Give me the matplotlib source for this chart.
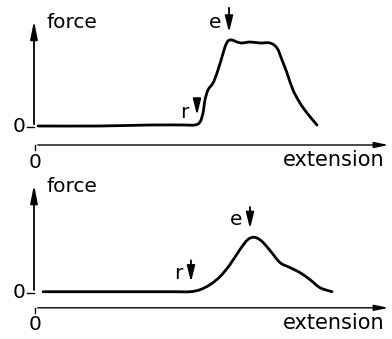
import matplotlib
matplotlib.use("Agg")
import matplotlib.pyplot as plt
from matplotlib.path import Path
from matplotlib.patches import PathPatch
import numpy as np

# traced curves (extension, force), arbitrary units
ext_top = [3, 65, 115, 150, 160, 165, 168, 170, 173, 178, 182, 187, 190, 193, 197,
           202, 207, 215, 225, 235, 242, 247, 252, 258, 265, 272, 282]
force_top = [1, 1, 2, 2, 2, 5, 14, 27, 37, 44, 54, 70, 80, 86, 87,
             85, 84, 85, 84, 84, 79, 67, 54, 37, 24, 14, 2]

ext_bot = [8, 85, 140, 155, 165, 175, 185, 195, 205, 213, 220, 227, 235, 245, 255,
           265, 275, 285, 297]
force_bot = [1, 1, 1, 1, 3, 8, 16, 28, 43, 53, 55, 51, 42, 30, 25, 20, 13, 5, 1]

# marker arrows: (x, y_start, y_end)
r_top = (162, 25, 9)
e_top = (194, 122, 92)
r_bot = (156, 35, 8)
e_bot = (215, 88, 61)

FS = 14.5


def smooth_path(x, y):
    # bezier path through the traced points (catmull-rom control points)
    p = np.column_stack([x, y]).astype(float)
    p_ext = np.vstack([p[0], p, p[-1]])
    verts = [p[0]]
    codes = [Path.MOVETO]
    for i in range(1, len(p_ext) - 2):
        p0, p1, p2, p3 = p_ext[i - 1], p_ext[i], p_ext[i + 1], p_ext[i + 2]
        verts += [p1 + (p2 - p0) / 6, p2 - (p3 - p1) / 6, p2]
        codes += [Path.CURVE4] * 3
    return Path(verts, codes)


def draw_panel(ax, ext, force, r_arr, e_arr, xaxis_y, ftop, ylim):
    ax.set_xlim(-35, 357)
    ax.set_ylim(*ylim)
    ax.axis('off')

    # force axis with arrow
    ax.annotate('', xy=(-1, ftop), xytext=(-1, 0),
                arrowprops=dict(arrowstyle='-|>,head_width=0.18,head_length=0.9',
                                lw=1.3, color='black', mutation_scale=12))
    ax.plot([-8, -1], [0, 0], color='black', lw=1.0)
    ax.text(12, ftop - 4, 'force', fontsize=FS, va='center', ha='left')
    ax.text(-16, 0, '0', fontsize=FS, va='center', ha='center')

    # extension axis
    ax.annotate('', xy=(356, xaxis_y), xytext=(0, xaxis_y),
                arrowprops=dict(arrowstyle='-|>,head_width=0.15,head_length=0.7',
                                lw=1.0, color='black', mutation_scale=12))
    ax.plot([0, 0], [xaxis_y, xaxis_y - 5], color='black', lw=1.0)
    ax.text(0, xaxis_y - 17, '0', fontsize=FS, va='center', ha='center')
    ax.text(299, xaxis_y - 15, 'extension', fontsize=FS + 0.5, va='center', ha='center')

    # curve
    ax.add_patch(PathPatch(smooth_path(ext, force), facecolor='none',
                           edgecolor='black', lw=2.0, capstyle='round',
                           joinstyle='round'))

    # r and e markers
    for (x, y0, y1), lab in [(r_arr, 'r'), (e_arr, 'e')]:
        ax.annotate('', xy=(x, y1), xytext=(x, y0),
                    arrowprops=dict(arrowstyle='-|>,head_width=0.2,head_length=0.8',
                                    lw=1.3, color='black', mutation_scale=12))
        ax.text(x - 8, (y0 + y1) / 2 - 2, lab, fontsize=FS, va='center', ha='right')


fig = plt.figure(figsize=(3.92, 3.39), dpi=100)
ax1 = fig.add_axes([0, 170 / 339, 1, 169 / 339])
ax2 = fig.add_axes([0, 0, 1, 170 / 339])

draw_panel(ax1, ext_top, force_top, r_top, e_top, -18, 109, (-42, 127))
draw_panel(ax2, ext_bot, force_bot, r_bot, e_bot, -15, 110, (-46, 123))

fig.savefig('out.png', dpi=100)
